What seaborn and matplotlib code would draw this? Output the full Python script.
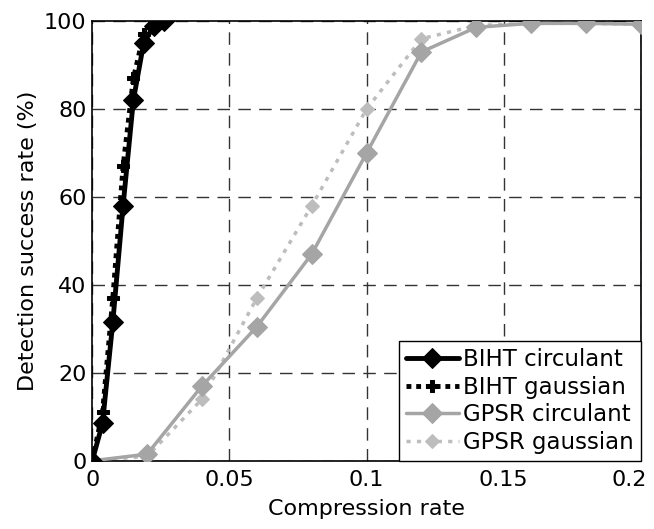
import matplotlib
matplotlib.use("Agg")
import matplotlib.pyplot as plt
import matplotlib.transforms as mtransforms
import seaborn as sns

# data
biht_x = [0.0, 0.00375, 0.0075, 0.01125, 0.015, 0.01875, 0.0225, 0.02625]
biht_circulant = [0, 8.5, 31.5, 58, 82, 95, 99, 100]
biht_gaussian = [0, 11, 37, 67, 87, 97, 99.5, 100]

gpsr_x = [0.0, 0.02, 0.04, 0.06, 0.08, 0.1, 0.12, 0.14, 0.16, 0.18, 0.2]
gpsr_circulant = [0, 1.5, 17, 30.5, 47, 70, 93, 98.6, 99.5, 99.5, 99.3]
gpsr_gaussian = [0, 1, 14, 37, 58, 80, 96, 99, 99.5, 99.5, 99.3]

sns.set_style("white")
plt.rcParams['font.family'] = ['DejaVu Sans']
plt.rcParams['text.color'] = 'black'
plt.rcParams['axes.labelcolor'] = 'black'
plt.rcParams['xtick.color'] = 'black'
plt.rcParams['ytick.color'] = 'black'

fig, ax = plt.subplots(figsize=(6.54, 5.29), dpi=100)
fig.subplots_adjust(left=0.141, right=0.980, top=0.960, bottom=0.129)

sns.lineplot(x=biht_x, y=biht_circulant, ax=ax, color='black', lw=3.5,
             marker='D', markersize=10, markeredgecolor='black',
             label='BIHT circulant', zorder=5)
sns.lineplot(x=biht_x, y=biht_gaussian, ax=ax, color='black', lw=3.5,
             linestyle=(0, (1, 1)), marker='P', markersize=8,
             markeredgecolor='black', label='BIHT gaussian', zorder=4)
sns.lineplot(x=gpsr_x, y=gpsr_circulant, ax=ax, color='#a5a5a5', lw=2.5,
             marker='D', markersize=10, markeredgecolor='#a5a5a5',
             label='GPSR circulant', zorder=3)
sns.lineplot(x=gpsr_x, y=gpsr_gaussian, ax=ax, color='#bdbdbd', lw=2.5,
             linestyle=(0, (1.2, 1.8)), marker='D', markersize=7,
             markeredgecolor='#bdbdbd', label='GPSR gaussian', zorder=2)

ax.set_xlim(0, 0.2)
ax.set_ylim(0, 100)
ax.set_xticks([0, 0.05, 0.1, 0.15, 0.2])
ax.set_xticklabels(['0', '0.05', '0.1', '0.15', '0.2'])
ax.set_yticks([0, 20, 40, 60, 80, 100])
ax.tick_params(labelsize=16, length=0)
ax.tick_params(axis='x', pad=7)
ax.tick_params(axis='y', pad=4)
ax.grid(True, color='#333333', linestyle=(0, (9, 6)), lw=1)
for s in ax.spines.values():
    s.set_color('black')
    s.set_linewidth(1.2)

# last x label sits a bit left, as in the scan
last = ax.get_xticklabels()[-1]
last.set_transform(last.get_transform() +
                   mtransforms.ScaledTranslation(-12 / 100, 0, fig.dpi_scale_trans))

ax.set_xlabel('Compression rate', fontsize=16, labelpad=6)
ax.set_ylabel('Detection success rate (%)', fontsize=16, labelpad=4)

leg = ax.legend(loc='lower right', fontsize=16.5, frameon=True, fancybox=False,
                borderaxespad=0, handlelength=2.3, handletextpad=0.2,
                borderpad=0.3, labelspacing=0.2)
leg.get_frame().set_edgecolor('black')
leg.get_frame().set_linewidth(1)
leg.get_frame().set_alpha(1)

fig.savefig('out.png', dpi=100)
